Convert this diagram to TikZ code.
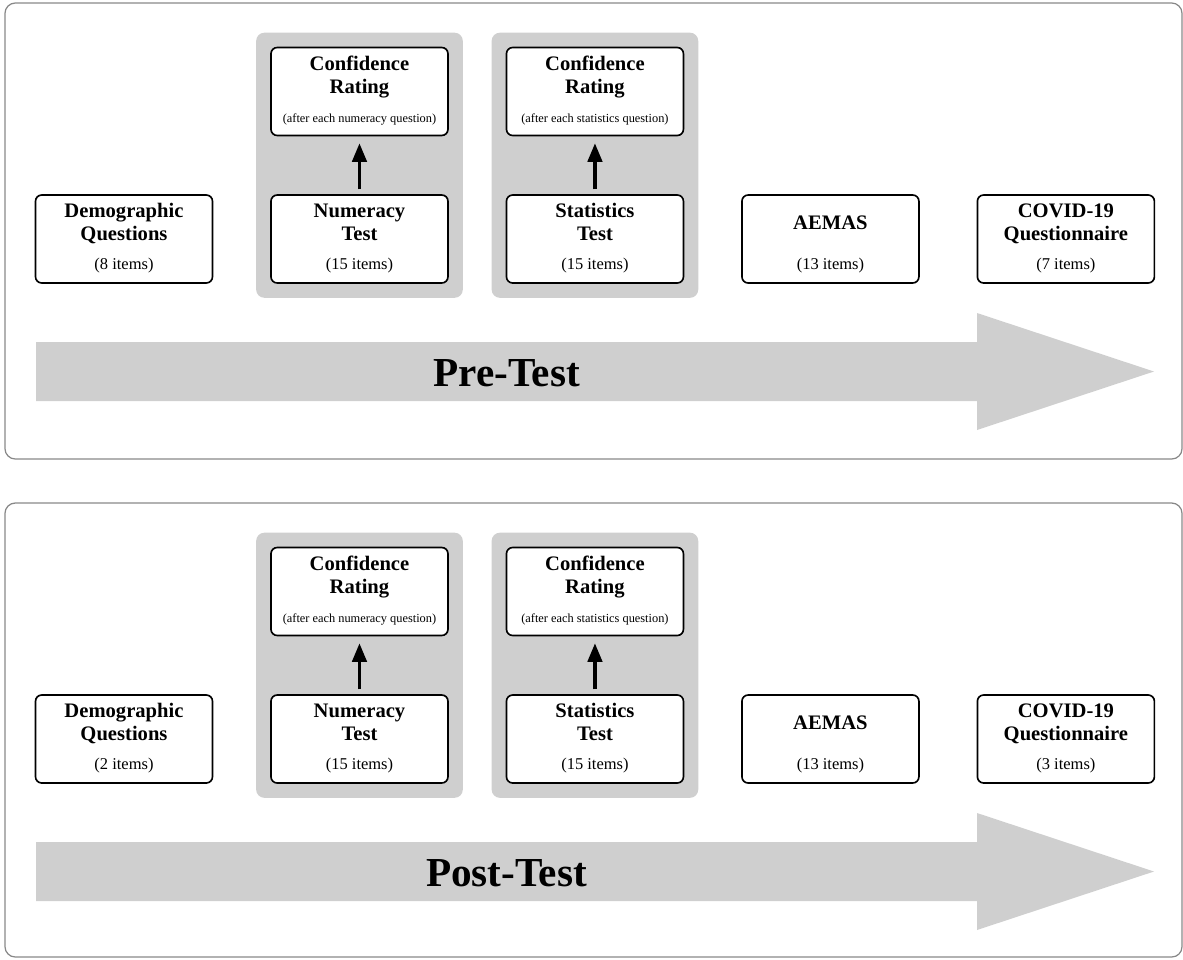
\documentclass[tikz,border=0pt]{standalone}
\usepackage{fontspec}
\setmainfont{Liberation Serif}
\usetikzlibrary{arrows.meta, positioning, fit, backgrounds}
\definecolor{boxgray}{RGB}{207,207,207}
\definecolor{framegray}{RGB}{136,136,136}
\tikzstyle{stage} = [rectangle, rounded corners=3pt, draw=black, thick, fill=white, inner sep=0pt]
\tikzstyle{group} = [rectangle, rounded corners=4pt, fill=boxgray, inner sep=6.8pt]
\tikzstyle{panel} = [draw=framegray, line width=0.6pt, rounded corners=5pt]
\tikzstyle{phase} = [font=\fontsize{20}{24}\selectfont\bfseries, inner sep=0pt]
\tikzstyle{bigarrow} = [fill=boxgray]
\tikzstyle{arrow} = [line width=1.6pt, -{Triangle[length=9pt,width=7pt]}, shorten <=2.4pt, shorten >=3.4pt]
\newcommand{\stagetext}[2]{\parbox[c][42.7pt][s]{85.9pt}{\centering
    \vfill{\fontsize{10}{11.2}\selectfont\bfseries\strut #1\strut\par}
    \vfill\vspace{0.7pt}\nointerlineskip
    {\footnotesize\strut #2\par}\vspace{3.6pt}}}
\newcommand{\aftertext}[1]{\fontsize{6}{7}\selectfont (after each #1 question)}

\begin{document}
\begin{tikzpicture}[x=0.4854pt, y=-0.4854pt, node distance=114.3pt]
        \useasboundingbox (0,0) rectangle (1183,959);
        %frames
        \draw [panel] (5,3) rectangle (1182,459);
        \draw [panel] (5,503) rectangle (1182,957);
        %pre-test stages
        \node (Dem1) [stage] at (124,239) {\stagetext{Demographic\\Questions}{(8 items)}};
        \node (Num1) [stage, right of=Dem1] {\stagetext{Numeracy\\Test}{(15 items)}};
        \node (Stat1) [stage, right of=Num1] {\stagetext{Statistics\\Test}{(15 items)}};
        \node (Aemas1) [stage, right of=Stat1] {\stagetext{AEMAS}{(13 items)}};
        \node (Covid1) [stage, right of=Aemas1] {\stagetext{COVID-19\\Questionnaire}{(7 items)}};
        \node (ConfNum1) [stage, above of=Num1, yshift=-42.7pt] {\stagetext{Confidence\\Rating}{\aftertext{numeracy}}};
        \node (ConfStat1) [stage, above of=Stat1, yshift=-42.7pt] {\stagetext{Confidence\\Rating}{\aftertext{statistics}}};
        %post-test stages
        \node (Dem2) [stage] at (124,739) {\stagetext{Demographic\\Questions}{(2 items)}};
        \node (Num2) [stage, right of=Dem2] {\stagetext{Numeracy\\Test}{(15 items)}};
        \node (Stat2) [stage, right of=Num2] {\stagetext{Statistics\\Test}{(15 items)}};
        \node (Aemas2) [stage, right of=Stat2] {\stagetext{AEMAS}{(13 items)}};
        \node (Covid2) [stage, right of=Aemas2] {\stagetext{COVID-19\\Questionnaire}{(3 items)}};
        \node (ConfNum2) [stage, above of=Num2, yshift=-42.7pt] {\stagetext{Confidence\\Rating}{\aftertext{numeracy}}};
        \node (ConfStat2) [stage, above of=Stat2, yshift=-42.7pt] {\stagetext{Confidence\\Rating}{\aftertext{statistics}}};
        %gray groups behind the tests
        \begin{scope}[on background layer]
            \node (GrpNum1) [group, fit=(ConfNum1)(Num1)] {};
            \node (GrpStat1) [group, fit=(ConfStat1)(Stat1)] {};
            \node (GrpNum2) [group, fit=(ConfNum2)(Num2)] {};
            \node (GrpStat2) [group, fit=(ConfStat2)(Stat2)] {};
        \end{scope}
        %arrows
        \draw [arrow] (Num1) -- (ConfNum1);
        \draw [arrow] (Stat1) -- (ConfStat1);
        \draw [arrow] (Num2) -- (ConfNum2);
        \draw [arrow] (Stat2) -- (ConfStat2);
        %timeline arrows
        \fill [bigarrow] (36,342) -- (977,342) -- (977,313) -- (1154,371.5) -- (977,430) -- (977,401) -- (36,401) -- cycle;
        \fill [bigarrow] (36,842) -- (977,842) -- (977,813) -- (1154,871.5) -- (977,930) -- (977,901) -- (36,901) -- cycle;
        \node (Pre) [phase] at (506.5,373) {Pre-Test};
        \node (Post) [phase] at (506.5,873) {Post-Test};
    \end{tikzpicture}
\end{document}
